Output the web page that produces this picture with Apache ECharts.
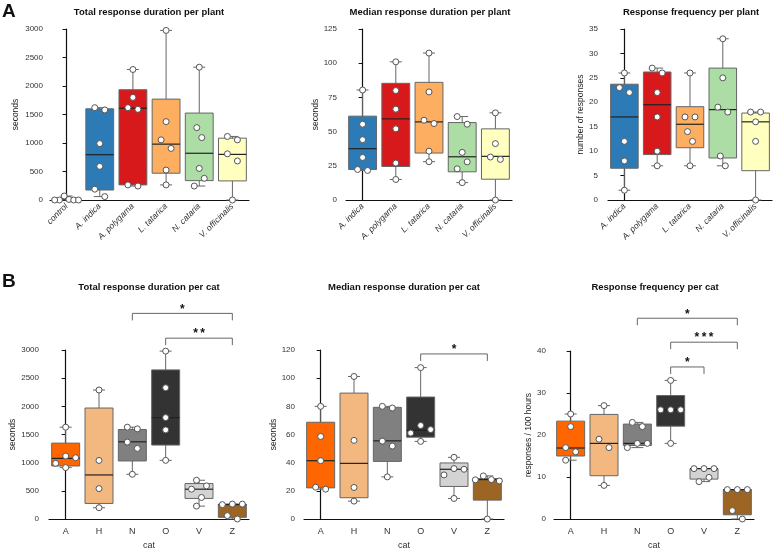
<!DOCTYPE html>
<html><head><meta charset="utf-8">
<script src="https://cdn.jsdelivr.net/npm/echarts/dist/echarts.min.js"></script>
<style>html,body{margin:0;padding:0;background:#fff}#c{width:777px;height:551px}</style>
</head><body><div id="c"></div><script>
// ---------- data ----------
const plantCats = ['A. indica','A. polygama','L. tatarica','N. cataria','V. officinalis'];
const totalPlantCats = ['control'].concat(plantCats);
const catIds = ['A','H','N','O','V','Z'];

// box stats: [min, Q1, median, Q3, max]
const totalPlantBox = [[0,0,0,15,70],[60,175,795,1600,1620],[245,265,1610,1935,2290],[265,470,980,1770,2975],[245,340,820,1525,2330],[0,335,800,1085,1115]];
const totalPlantPts = [[0,70,10,0,0,0],[1620,1580,990,590,190,60],[2290,1800,1620,1590,265,245],[2975,1375,1055,905,525,265],[2330,1270,1095,555,380,245],[1115,1055,810,685,0]];

const medianPlantBox = [[21.6,22.3,37.5,61.3,80.4],[15,24.5,59.3,85.3,101],[28,34.3,57.1,86,107.4],[12.7,20.6,31.6,56.6,61],[0,15.2,31.9,52,63.7]];
const medianPlantPts = [[80.4,55.4,44.1,31.1,22.3,21.6],[101,80,66.4,52,27,15],[107.4,79,58.3,55.9,35.7,28],[61,55.4,34.8,27.9,22.8,12.7],[63.7,41.2,31.4,29.7,0]];

const freqPlantBox = [[2,6.5,17,23.7,26],[7,9.3,19.5,26.2,27],[7,10.7,15.5,19.1,26],[7,8.6,18.5,27,33],[0,6,16,17.8,18]];
const freqPlantPts = [[26,23,22,12,8,2],[27,26,22,17,10,7],[26,17,17,14,12,7],[33,25,19,18,9,7],[18,18,16,12,0]];

const totalCatBox = [[912,941,1076,1347,1630],[200,276,782,1970,2290],[794,1030,1370,1588,1630],[1041,1312,1800,2647,2980],[229,365,529,629,688],[0,30,255,262,265]];
const totalCatPts = [[1630,1118,1088,988,912],[2290,1040,540,200],[1630,1600,1365,1253,794],[2980,2330,1800,1582,1041],[688,588,529,382,229],[265,255,265,60,0]];

const medianCatBox = [[21.2,22.1,41.4,68.7,80],[12.7,15.1,39.5,89.4,101.2],[29.9,40.9,55.5,79.3,80],[55.1,58.1,63,86.6,107.5],[14.6,23.1,35.3,39.8,43.8],[0,13.4,28,28.7,30.6]];
const medianCatPts = [[80,58.6,41.4,22.6,21.2],[101.2,55.8,22.4,12.7],[80,78.8,55.3,51.8,29.9],[107.5,66.4,63.5,61,55.1],[43.8,35.8,35.3,31.3,14.6],[30.6,28,27.8,27,0]];

const freqCatBox = [[14,15,16.9,23.3,25],[8,10.3,18,24.9,27],[17,17.5,18,22.6,23],[18,22.1,26,29.4,33],[8.9,9.5,12,12,12],[0,1,7,7,7]];
const freqCatPts = [[25,22,17,16,14],[27,19,17,8],[23,22,18,18,17],[33,26,26,26,18],[12,12,12,9.9,8.9],[7,7,7,2,0]];

// significance brackets: [from, to, height (data units), label]
const totalCatSig = [['N','Z',3650,'*'],['O','Z',3210,'**']];
const medianCatSig = [['O','Z',117.2,'*']];
const freqCatSig = [['N','Z',47.8,'*'],['O','Z',42.1,'***'],['O','V',36.2,'*']];

const plantColors = ['#ffffff','#2C7BB6','#D7191C','#FDAE61','#ABDDA4','#FFFFBF'];
const catColors = ['#FF6600','#F2B880','#808080','#333333','#D3D3D3','#9C6523'];

// ---------- layout ----------
const FONT = '"Liberation Sans", Arial, Helvetica, sans-serif';
const panels = [
  {title:'Total response duration per plant', tx:149, ty:12, cats:totalPlantCats, box:totalPlantBox, pts:totalPlantPts, colors:plantColors, max:3000, interval:500, yName:'seconds', nameGap:30, grid:{left:50, top:29, width:199, height:171}, offset:0, rotate:45, xName:'', sig:[]},
  {title:'Median response duration per plant', tx:430, ty:12, cats:plantCats, box:medianPlantBox, pts:medianPlantPts, colors:plantColors.slice(1), max:125, interval:25, yName:'seconds', nameGap:21, grid:{left:346, top:29, width:166, height:171}, offset:2, rotate:45, xName:'', sig:[]},
  {title:'Response frequency per plant', tx:691, ty:12, cats:plantCats, box:freqPlantBox, pts:freqPlantPts, colors:plantColors.slice(1), max:35, interval:5, yName:'number of responses', nameGap:17, grid:{left:608, top:29, width:164, height:171}, offset:3, rotate:45, xName:'', sig:[]},
  {title:'Total response duration per cat', tx:149, ty:287, cats:catIds, box:totalCatBox, pts:totalCatPts, colors:catColors, max:3000, interval:500, yName:'seconds', nameGap:26, grid:{left:49, top:350, width:200, height:170}, offset:3, rotate:0, xName:'cat', sig:totalCatSig},
  {title:'Median response duration per cat', tx:404, ty:287, cats:catIds, box:medianCatBox, pts:medianCatPts, colors:catColors, max:120, interval:20, yName:'seconds', nameGap:23, grid:{left:304, top:350, width:200, height:170}, offset:2, rotate:0, xName:'cat', sig:medianCatSig},
  {title:'Response frequency per cat', tx:655, ty:287, cats:catIds, box:freqCatBox, pts:freqCatPts, colors:catColors, max:40, interval:10, yName:'responses / 100 hours', nameGap:19, grid:{left:554, top:351, width:200, height:170}, offset:1, rotate:0, xName:'cat', sig:freqCatSig}
];

// beeswarm horizontal offsets (pixels) for a column of values
function swarmOffsets(values, pxPerVal, D, limit){
  const idx = values.map((v,i)=>i).sort((a,b)=>values[b]-values[a]);
  const placed = [];
  idx.forEach(i=>{
    const y = values[i]*pxPerVal;
    const cands=[0];
    for(let k=1;k<=14;k++){cands.push(k*D/2,-k*D/2);}
    for(const c of cands){
      if(placed.every(p=>Math.hypot(p.x-c,p.y-y)>=D-1e-6)){placed.push({i:i,x:c,y:y});break;}
    }
  });
  placed.sort((a,b)=>b.y-a.y);
  let start=0;
  for(let k=1;k<=placed.length;k++){
    if(k===placed.length || placed[k-1].y-placed[k].y>=D){
      const cl=placed.slice(start,k);
      const mn=Math.min.apply(null,cl.map(p=>p.x)), mx=Math.max.apply(null,cl.map(p=>p.x));
      const c=(mn+mx)/2;
      cl.forEach(p=>{p.x-=c;});
      const m=Math.max.apply(null,cl.map(p=>Math.abs(p.x)));
      if(m>limit) cl.forEach(p=>{p.x*=limit/m;});
      start=k;
    }
  }
  const out=new Array(values.length);
  placed.forEach(p=>{out[p.i]=p.x;});
  return out;
}

const grids=[], xAxes=[], yAxes=[], series=[], graphics=[];
panels.forEach((p,k)=>{
  const n=p.cats.length;
  grids.push(Object.assign({containLabel:false}, p.grid));
  xAxes.push({gridIndex:k, type:'category', data:p.cats,
    axisLine:{lineStyle:{color:'#111', width:1.2}},
    axisTick:{alignWithLabel:true, length:4, lineStyle:{color:'#111', width:1}},
    axisLabel:{interval:0, rotate:p.rotate, fontSize:p.rotate?8.5:9, fontStyle:p.rotate?'italic':'normal', color:'#333', margin:p.rotate?5:8, fontFamily:FONT},
    name:p.xName, nameLocation:'middle', nameGap:22, nameTextStyle:{fontSize:9, color:'#333', fontFamily:FONT}});
  xAxes.push({gridIndex:k, type:'value', min:-0.5, max:n-0.5, show:false});
  yAxes.push({gridIndex:k, type:'value', min:0, max:p.max, interval:p.interval, offset:p.offset,
    axisLine:{show:true, lineStyle:{color:'#111', width:1.2}},
    axisTick:{show:true, length:4, lineStyle:{color:'#111', width:1}},
    splitLine:{show:false},
    axisLabel:{fontSize:8, color:'#333', margin:7, fontFamily:FONT, formatter:function(v){return String(v);}},
    name:p.yName, nameLocation:'middle', nameGap:p.nameGap, nameTextStyle:{fontSize:8.5, color:'#222', fontFamily:FONT}});
  const colors=p.colors;
  series.push({type:'custom', xAxisIndex:2*k+1, yAxisIndex:k, z:2,
    data:p.box.map((b,i)=>[i].concat(b)),
    renderItem:function(params, api){
      const i=api.value(0);
      const mn=api.coord([i,api.value(1)]), q1=api.coord([i,api.value(2)]), md=api.coord([i,api.value(3)]), q3=api.coord([i,api.value(4)]), mx=api.coord([i,api.value(5)]);
      const unit=api.size([1,0])[0];
      const bw=unit*0.84, cw=unit*0.36, x=mn[0];
      const ls={stroke:'#666', lineWidth:1};
      return {type:'group', children:[
        {type:'line', shape:{x1:x,y1:mx[1],x2:x,y2:mn[1]}, style:ls},
        {type:'line', shape:{x1:x-cw/2,y1:mx[1],x2:x+cw/2,y2:mx[1]}, style:ls},
        {type:'line', shape:{x1:x-cw/2,y1:mn[1],x2:x+cw/2,y2:mn[1]}, style:ls},
        {type:'rect', shape:{x:x-bw/2, y:q3[1], width:bw, height:q1[1]-q3[1]}, style:{fill:colors[params.dataIndex], stroke:'#666', lineWidth:1}},
        {type:'line', shape:{x1:x-bw/2,y1:md[1],x2:x+bw/2,y2:md[1]}, style:{stroke:'#222', lineWidth:1.2}}
      ]};
    }});
  const unitPx=p.grid.width/n, pxPerVal=p.grid.height/p.max;
  const sdata=[];
  p.pts.forEach((vals,i)=>{
    const off=swarmOffsets(vals,pxPerVal,10,unitPx*0.36);
    vals.forEach((v,j)=>sdata.push([i+off[j]/unitPx, v]));
  });
  series.push({type:'scatter', xAxisIndex:2*k+1, yAxisIndex:k, z:3, symbol:'circle', symbolSize:6,
    itemStyle:{color:'#ffffff', borderColor:'#555', borderWidth:1, opacity:1}, data:sdata, silent:true});
  if(p.sig.length){
    const sig=p.sig;
    series.push({type:'custom', xAxisIndex:2*k+1, yAxisIndex:k, z:4, clip:false,
      data:sig.map(s=>[catIds.indexOf(s[0]), catIds.indexOf(s[1]), s[2]]),
      renderItem:function(params, api){
        const a=api.coord([api.value(0),api.value(2)]), b=api.coord([api.value(1),api.value(2)]);
        const ls={stroke:'#666', lineWidth:1};
        const y=a[1];
        return {type:'group', children:[
          {type:'line', shape:{x1:a[0],y1:y,x2:b[0],y2:y}, style:ls},
          {type:'line', shape:{x1:a[0],y1:y,x2:a[0],y2:y+7}, style:ls},
          {type:'line', shape:{x1:b[0],y1:y,x2:b[0],y2:y+7}, style:ls},
          {type:'text', x:(a[0]+b[0])/2, y:y-4, style:{text:sig[params.dataIndex][3].split('').join('\u2009'), font:'bold 12px '+FONT, fill:'#111', align:'center', verticalAlign:'middle', textAlign:'center', textVerticalAlign:'middle'}}
        ]};
      }});
  }
  graphics.push({type:'text', x:p.tx, y:p.ty, style:{text:p.title, font:'bold 9.5px '+FONT, fill:'#111', align:'center', verticalAlign:'middle', textAlign:'center', textVerticalAlign:'middle'}});
});
graphics.push({type:'text', x:2, y:12, style:{text:'A', font:'bold 19px '+FONT, fill:'#111', align:'left', verticalAlign:'middle', textAlign:'left', textVerticalAlign:'middle'}});
graphics.push({type:'text', x:2, y:282, style:{text:'B', font:'bold 19px '+FONT, fill:'#111', align:'left', verticalAlign:'middle', textAlign:'left', textVerticalAlign:'middle'}});

const chart=echarts.init(document.getElementById('c'));
chart.setOption({animation:false, backgroundColor:'#ffffff', grid:grids, xAxis:xAxes, yAxis:yAxes, series:series, graphic:graphics});
</script></body></html>
